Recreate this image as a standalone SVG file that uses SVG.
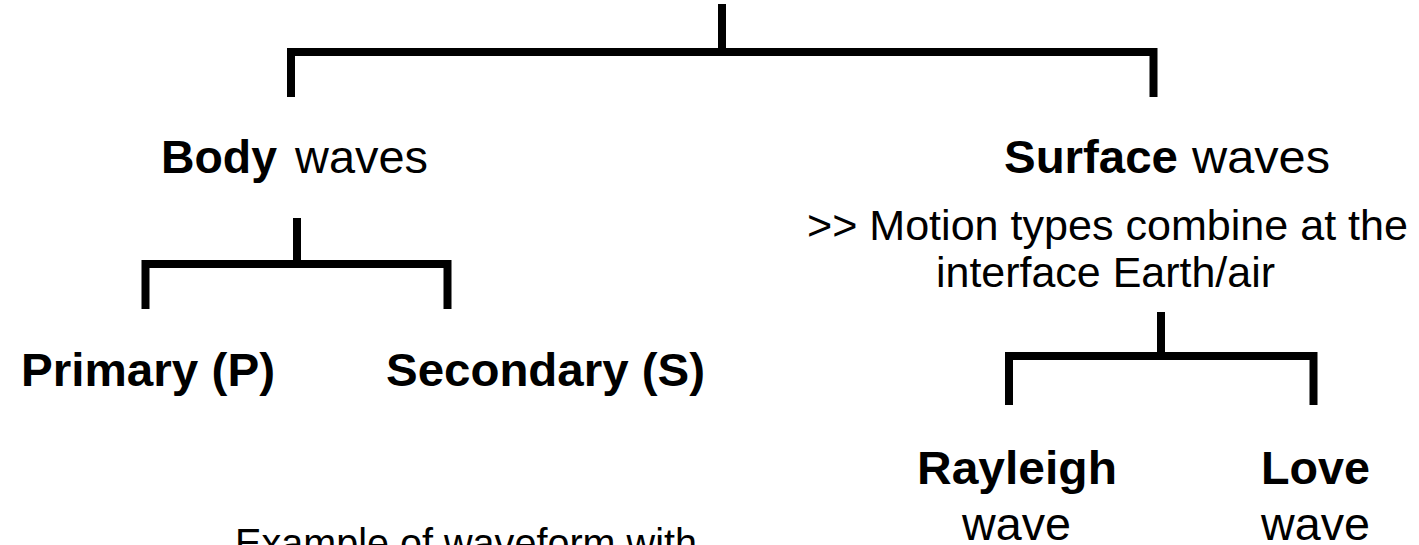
<svg xmlns="http://www.w3.org/2000/svg" width="1419" height="545" viewBox="0 0 1419 545">
  <style>
    .br { fill: none; stroke: #000; stroke-width: 8; stroke-linejoin: miter; stroke-linecap: butt; }
    text { font-family: "Liberation Sans", Arial, sans-serif; fill: #000; }
    .b { font-weight: bold; }
    .h { font-size: 46px; }
    .m { font-size: 43px; }
    .l { font-size: 47px; }
    .e { font-size: 40px; }
  </style>
  <rect width="1419" height="545" fill="#fff"/>

  <!-- tree brackets -->
  <g id="connectors">
    <path class="br" d="M722 4V52"/>
    <path class="br" d="M291 97V52H1153.5V97"/>
    <path class="br" d="M297 218V264"/>
    <path class="br" d="M145.5 309V264H447.5V309"/>
    <path class="br" d="M1161 312V356"/>
    <path class="br" d="M1009 405V356H1313.5V405"/>
  </g>

  <g id="body-waves">
    <text class="h b" x="161" y="173" textLength="116" lengthAdjust="spacingAndGlyphs">Body</text>
    <text class="h" x="295" y="173" textLength="133" lengthAdjust="spacingAndGlyphs">waves</text>
  </g>

  <g id="surface-waves">
    <text class="h b" x="1004" y="173" textLength="174" lengthAdjust="spacingAndGlyphs">Surface</text>
    <text class="h" x="1192" y="173" textLength="138" lengthAdjust="spacingAndGlyphs">waves</text>
    <text class="m" x="807" y="240" textLength="601" lengthAdjust="spacingAndGlyphs">&gt;&gt; Motion types combine at the</text>
    <text class="m" x="936" y="287" textLength="339" lengthAdjust="spacingAndGlyphs">interface Earth/air</text>
  </g>

  <g id="primary">
    <text class="l b" x="21" y="386" textLength="254" lengthAdjust="spacingAndGlyphs">Primary (P)</text>
  </g>

  <g id="secondary">
    <text class="l b" x="386" y="386" textLength="319" lengthAdjust="spacingAndGlyphs">Secondary (S)</text>
  </g>

  <g id="rayleigh">
    <text class="l b" x="917" y="484" textLength="200" lengthAdjust="spacingAndGlyphs">Rayleigh</text>
    <text class="h" x="962" y="540" textLength="109" lengthAdjust="spacingAndGlyphs">wave</text>
  </g>

  <g id="love">
    <text class="h b" x="1261" y="484" textLength="109" lengthAdjust="spacingAndGlyphs">Love</text>
    <text class="h" x="1261" y="540" textLength="109" lengthAdjust="spacingAndGlyphs">wave</text>
  </g>

  <g id="example">
    <text class="e" x="235" y="557" textLength="462" lengthAdjust="spacingAndGlyphs">Example of waveform with</text>
  </g>
</svg>
